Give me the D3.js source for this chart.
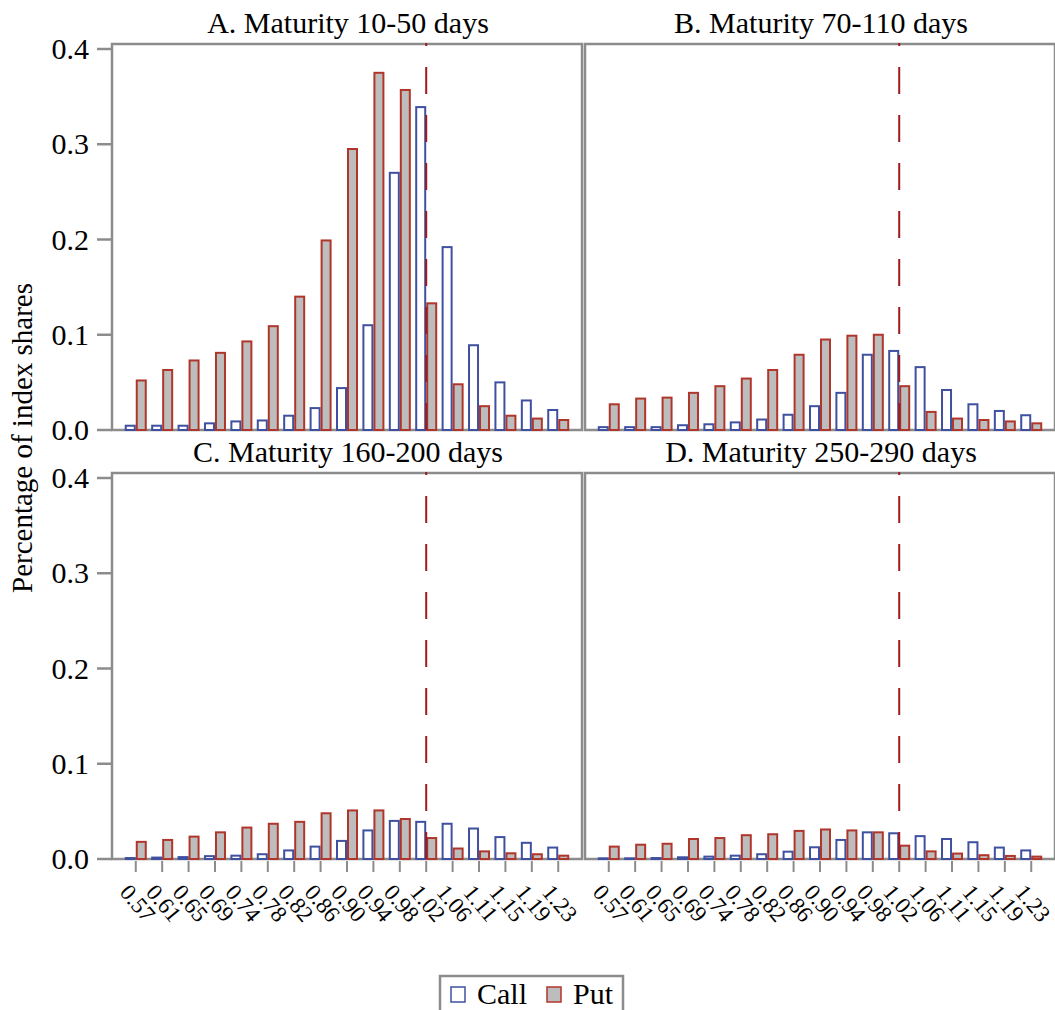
<!DOCTYPE html>
<html>
<head>
<meta charset="utf-8">
<script src="https://cdn.jsdelivr.net/npm/d3@7"></script>
</head>
<body>
<svg width="1055" height="1010"></svg>
<script>
var width = 1055, height = 1010;
var serif = "Liberation Serif";

// moneyness categories (strike / index)
var strikes = ["0.57","0.61","0.65","0.69","0.74","0.78","0.82","0.86","0.90",
               "0.94","0.98","1.02","1.06","1.11","1.15","1.19","1.23"];
var atmStrike = "1.02";
var series = ["Call", "Put"];
var yTicks = [0, 0.1, 0.2, 0.3, 0.4];

var titles = ["A. Maturity 10-50 days", "B. Maturity 70-110 days",
              "C. Maturity 160-200 days", "D. Maturity 250-290 days"];

var callA = [0.0045,0.0045,0.0045,0.007,0.009,0.010,0.015,0.023,0.044,0.110,0.270,0.339,0.192,0.089,0.050,0.031,0.021];
var putA  = [0.052,0.063,0.073,0.081,0.093,0.109,0.140,0.199,0.295,0.375,0.357,0.133,0.048,0.025,0.015,0.012,0.0105];
var callB = [0.003,0.003,0.003,0.005,0.006,0.008,0.011,0.016,0.025,0.039,0.079,0.083,0.066,0.042,0.027,0.020,0.0155];
var putB  = [0.027,0.033,0.034,0.039,0.046,0.054,0.063,0.079,0.095,0.099,0.100,0.046,0.019,0.012,0.0105,0.009,0.007];
var callC = [0.001,0.0015,0.002,0.003,0.0035,0.005,0.009,0.013,0.019,0.030,0.040,0.039,0.037,0.032,0.023,0.017,0.012];
var putC  = [0.018,0.020,0.0235,0.028,0.033,0.037,0.039,0.048,0.051,0.051,0.042,0.022,0.011,0.008,0.006,0.005,0.0035];
var callD = [0.0007,0.0007,0.001,0.0018,0.0025,0.0035,0.005,0.0077,0.0123,0.020,0.028,0.027,0.024,0.021,0.0176,0.012,0.009];
var putD  = [0.013,0.015,0.016,0.021,0.022,0.025,0.026,0.0295,0.031,0.030,0.028,0.014,0.008,0.0057,0.004,0.0032,0.0025];

var calls = [callA, callB, callC, callD];
var puts  = [putA, putB, putC, putD];

var frameColor = "#8c8c8c";
var callStroke = "#3f50a0", putStroke = "#b0362b", putFill = "#bdbdbd";
var dashColor = "#9e1b1b";

d3.select("body").style("margin", "0px");
var svg = d3.select("svg").style("display", "block");

var cols = [[112, 582], [585, 1055]];
var rows = [[430, 49], [859, 478]];

var x = d3.scaleBand().domain(strikes).paddingInner(0).paddingOuter(0.4);
var xs = d3.scaleBand().domain(series).range([-11, 11]).padding(0);

function label(sel, size) {
    return sel.attr("font-family", serif).attr("font-size", size);
}

titles.forEach(function(title, i) {
    var col = cols[i % 2], row = rows[Math.floor(i / 2)];
    var xp = x.copy().range(col);
    var y = d3.scaleLinear().domain([0, 0.4]).range(row);
    var g = svg.append("g");

    // frame
    g.append("rect")
        .attr("x", col[0]).attr("y", row[1] - 5)
        .attr("width", col[1] - col[0]).attr("height", row[0] - row[1] + 5)
        .attr("fill", "none").attr("stroke", frameColor).attr("stroke-width", 2.5);

    label(g.append("text"), 30)
        .attr("x", (col[0] + col[1]) / 2 + 1).attr("y", row[1] - 16)
        .attr("text-anchor", "middle")
        .text(title);

    // bars
    var rowsData = strikes.map(function(s, j) {
        return [{k: s, s: "Call", v: calls[i][j]}, {k: s, s: "Put", v: puts[i][j]}];
    });
    g.selectAll("g.grp").data(rowsData).enter().append("g")
        .attr("transform", function(d) { return "translate(" + (xp(d[0].k) + xp.bandwidth() / 2) + ",0)"; })
        .selectAll("rect").data(function(d) { return d; }).enter().append("rect")
        .attr("x", function(d) { return xs(d.s) + 1; })
        .attr("width", xs.bandwidth() - 2)
        .attr("y", function(d) { return y(d.v); })
        .attr("height", function(d) { return y(0) - y(d.v); })
        .attr("fill", function(d) { return d.s == "Call" ? "#fff" : putFill; })
        .attr("stroke", function(d) { return d.s == "Call" ? callStroke : putStroke; })
        .attr("stroke-width", 2);

    // at-the-money line
    var ax = xp(atmStrike) + xp.bandwidth() / 2;
    g.append("line")
        .attr("x1", ax).attr("x2", ax)
        .attr("y1", y(0)).attr("y2", row[1] - 6)
        .attr("stroke", dashColor).attr("stroke-width", 2)
        .attr("stroke-dasharray", "27,21");

    // y axis ticks on left column
    if (i % 2 == 0) {
        var yg = g.append("g").attr("transform", "translate(" + col[0] + ",0)");
        yg.selectAll("line").data(yTicks).enter().append("line")
            .attr("x1", -15).attr("x2", 0)
            .attr("y1", function(d) { return y(d); }).attr("y2", function(d) { return y(d); })
            .attr("stroke", frameColor).attr("stroke-width", 2.5);
        label(yg.selectAll("text").data(yTicks).enter().append("text"), 30)
            .attr("x", -23).attr("y", function(d) { return y(d); })
            .attr("dy", "0.34em").attr("text-anchor", "end")
            .text(d3.format(".1f"));
    }

    // x axis ticks on bottom row
    if (i >= 2) {
        var xg = g.append("g");
        xg.selectAll("line").data(strikes).enter().append("line")
            .attr("x1", function(d) { return xp(d) + xp.bandwidth() / 2; })
            .attr("x2", function(d) { return xp(d) + xp.bandwidth() / 2; })
            .attr("y1", row[0] + 2).attr("y2", row[0] + 13)
            .attr("stroke", frameColor).attr("stroke-width", 2);
        label(xg.selectAll("text").data(strikes).enter().append("text"), 23)
            .attr("transform", function(d) {
                return "translate(" + (xp(d) + xp.bandwidth() / 2 + 2) + "," + (row[0] + 44) + ")rotate(50)";
            })
            .attr("text-anchor", "middle").attr("dy", "0.35em")
            .text(function(d) { return d; });
    }
});

label(svg.append("text"), 29)
    .attr("transform", "translate(32,438)rotate(-90)")
    .attr("text-anchor", "middle")
    .text("Percentage of index shares");

// legend
var lg = svg.append("g").attr("transform", "translate(440,976)");
lg.append("rect").attr("x", 0).attr("y", 0).attr("width", 183).attr("height", 44)
    .attr("fill", "#fff").attr("stroke", frameColor).attr("stroke-width", 2.5);
var items = [{s: "Call", x: 10, fill: "#fff", stroke: callStroke},
             {s: "Put", x: 106, fill: putFill, stroke: putStroke}];
items.forEach(function(it) {
    lg.append("rect").attr("x", it.x + 1).attr("y", 11).attr("width", 14).attr("height", 15)
        .attr("fill", it.fill).attr("stroke", it.stroke).attr("stroke-width", 1.5);
    label(lg.append("text"), 30).attr("x", it.x + 27).attr("y", 28).text(it.s);
});
</script>
</body>
</html>
